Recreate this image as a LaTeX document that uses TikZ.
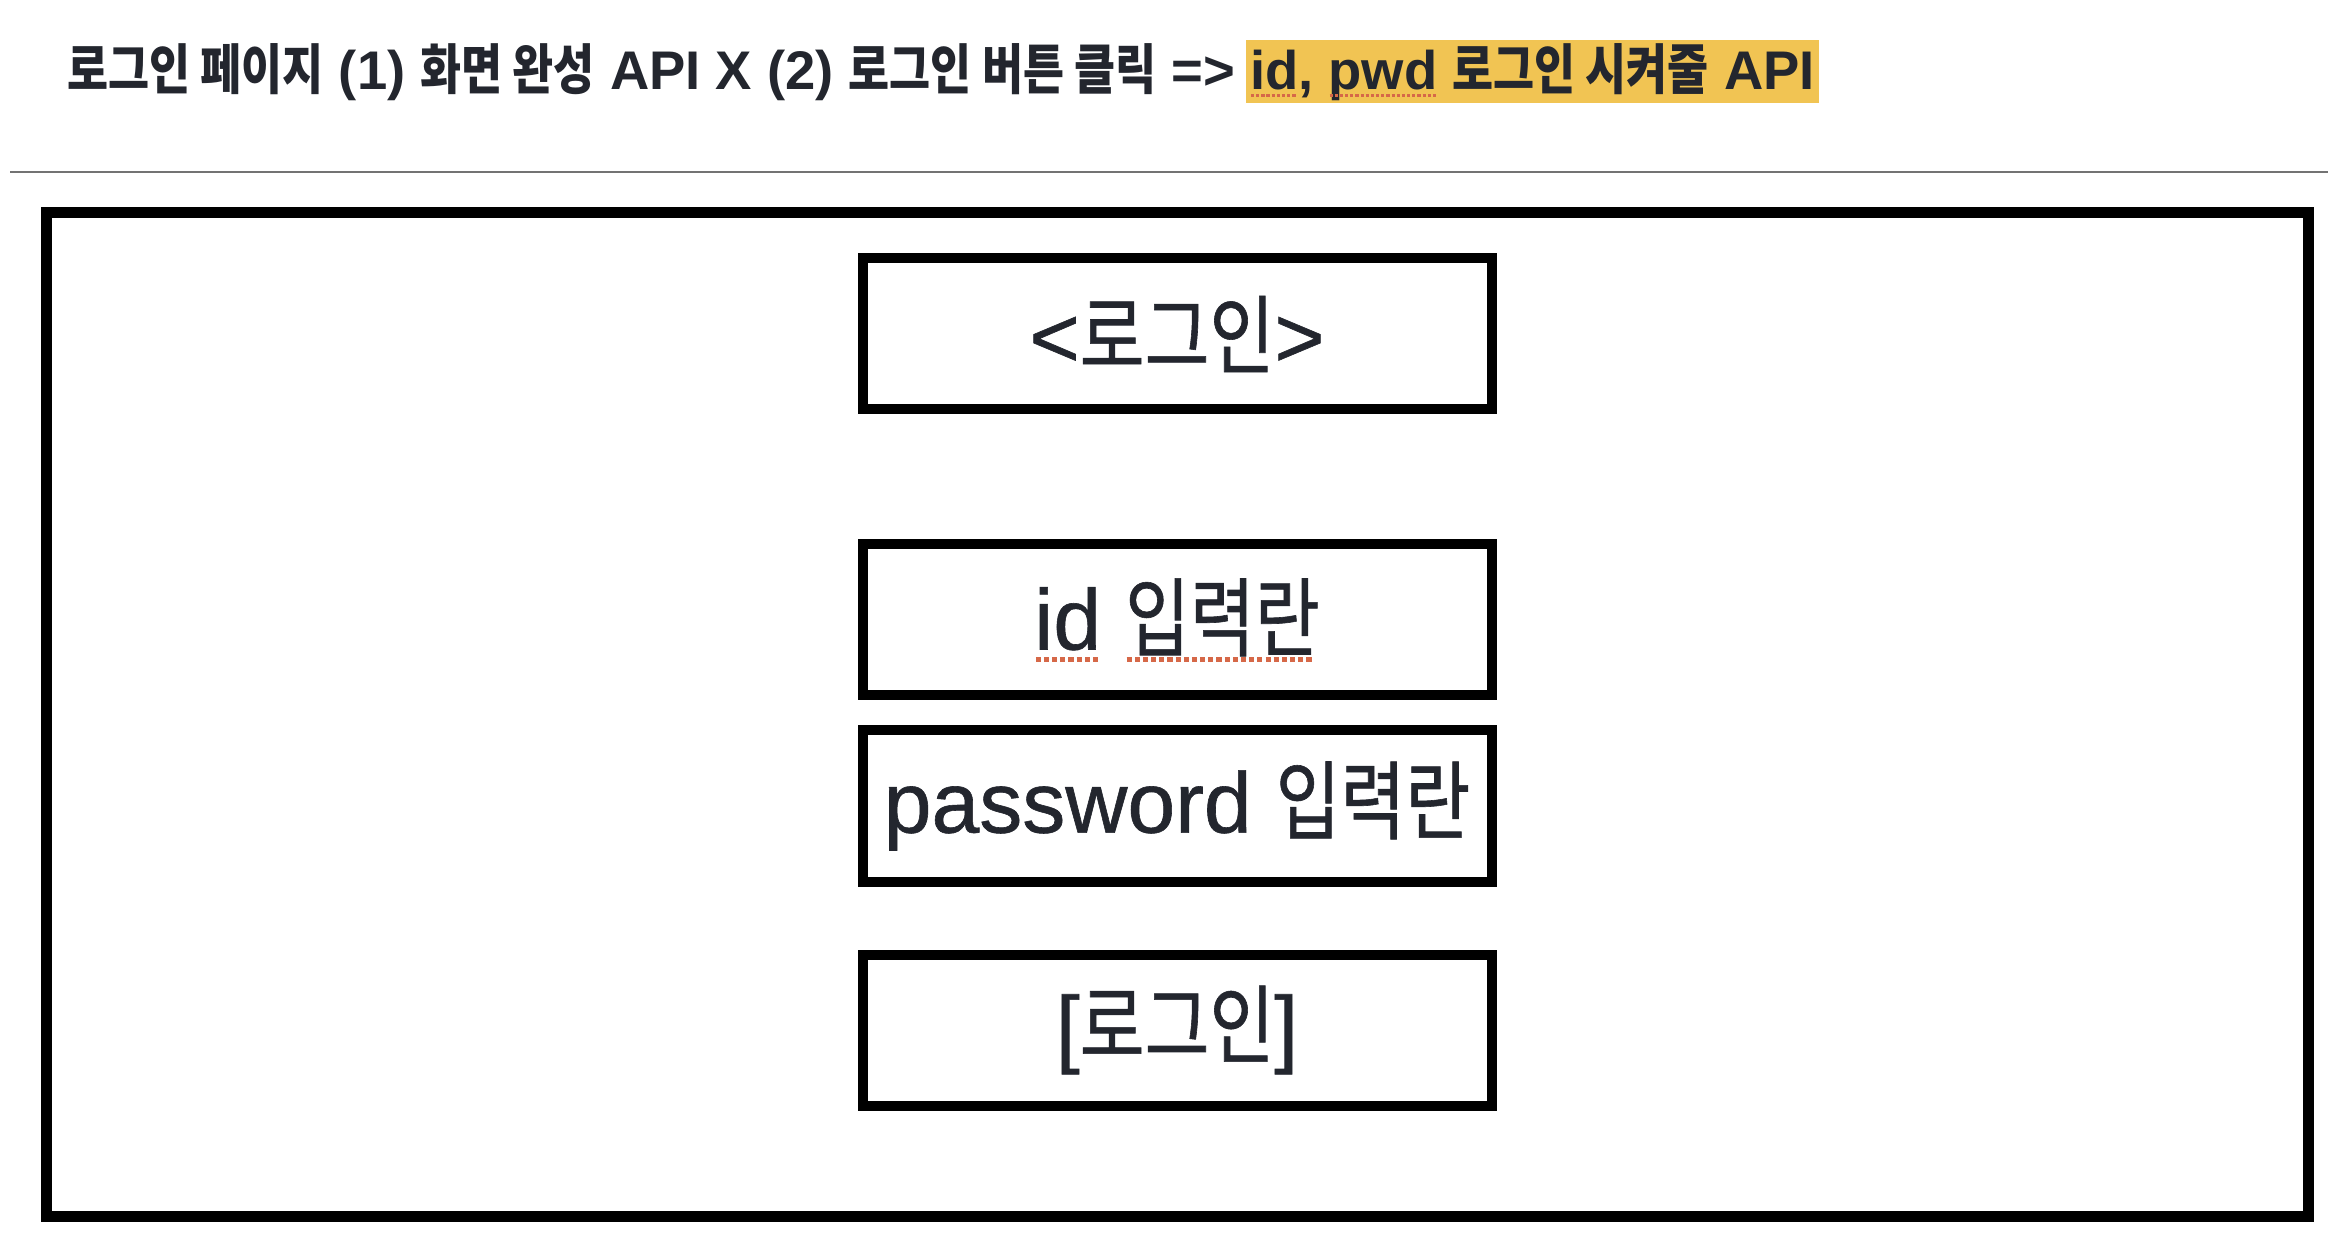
\documentclass[tikz,border=0pt]{standalone}
\usepackage{fontspec}
\setmainfont{Liberation Sans}
\newfontfamily\kr[FakeStretch=0.82]{Noto Sans CJK KR}
\newfontfamily\fieldlat[FakeBold=0.7]{Liberation Sans}
\newfontfamily\fieldkr[FakeStretch=0.82, FakeBold=0.7]{Noto Sans CJK KR}
\usetikzlibrary{positioning}
\definecolor{ink}{RGB}{35,38,46}
\definecolor{marker}{RGB}{241,196,83}
\definecolor{spell}{RGB}{214,104,72}
% dotted spell-check mark under a word
\newcommand\spellmark[1]{\setbox0\hbox{#1}\rlap{\copy0}\raisebox{-0.14em}{\color{spell}\leaders\hbox to 0.095em{\hss\rule{0.06em}{0.05em}\hss}\hskip\wd0}}

\begin{document}
\begin{tikzpicture}[x=0.5pt, y=-0.5pt,
    heading/.style={font=\fontsize{27.2}{32}\selectfont\bfseries, text=ink, inner sep=0pt},
    field/.style={draw, line width=5pt, minimum width=314.5pt, minimum height=75.5pt,
      inner sep=0pt, font=\fontsize{43}{50}\fieldlat, text=ink}]
  \useasboundingbox (0,0) rectangle (2352,1240);
  % title line
  \node[heading, anchor=west] (title) at (67,72)
    {{\kr 로그인 페이지} (1) {\kr 화면 완성} API X (2) {\kr 로그인 버튼 클릭} =>};
  \node[heading, fill=marker, inner xsep=2pt, minimum height=31.5pt, right=5pt of title] (api)
    {\spellmark{id}, \spellmark{pwd} {\kr 로그인 시켜줄} API};
  \draw[black!55, line width=0.8pt] (10,172) -- (2328,172);
  % screen
  \draw[line width=5.5pt] (46,213) rectangle (2308,1216);
  \node[field] (heading) at (1177,334) {<{\fieldkr 로그인}>};
  \node[field] (idbox) at (1177,620) {\spellmark{id} \spellmark{\fieldkr 입력란}};
  \node[field] (pwbox) at (1177,806) {password {\fieldkr 입력란}};
  \node[field] (button) at (1177,1030) {[{\fieldkr 로그인}]};
\end{tikzpicture}
\end{document}
